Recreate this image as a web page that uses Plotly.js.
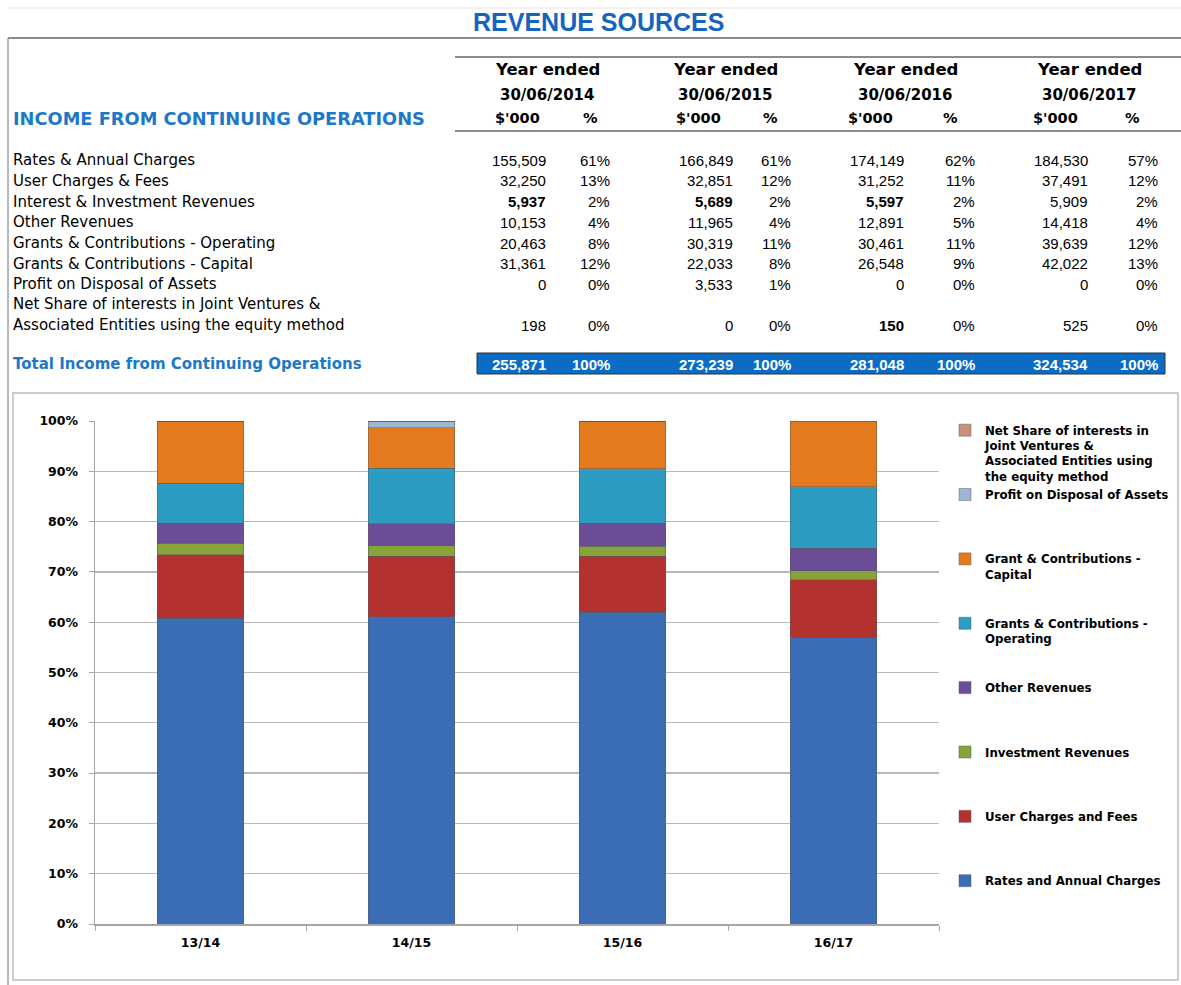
<!DOCTYPE html>
<html><head><meta charset="utf-8">
<script src="https://cdn.plot.ly/plotly-3.0.1.min.js"></script>
<style>html,body{margin:0;padding:0;background:#fff;} #chart{width:1181px;height:985px;}</style>
</head><body><div id="chart"></div>
<script>
const W = 1181, H = 985;

// ---- data ----
const categories = ['13/14', '14/15', '15/16', '16/17'];
const yearEnded = ['30/06/2014', '30/06/2015', '30/06/2016', '30/06/2017'];
const rowLabels = [
  'Rates & Annual Charges',
  'User Charges & Fees',
  'Interest & Investment Revenues',
  'Other Revenues',
  'Grants & Contributions - Operating',
  'Grants & Contributions - Capital',
  'Profit on Disposal of Assets',
  'Net Share of interests in Joint Ventures &|Associated Entities using the equity method'
];
const seriesNames = [
  'Rates and Annual Charges',
  'User Charges and Fees',
  'Investment Revenues',
  'Other Revenues',
  'Grants & Contributions -<br>Operating',
  'Grant & Contributions -<br>Capital',
  'Profit on Disposal of Assets',
  'Net Share of interests in<br>Joint Ventures &<br>Associated Entities using<br>the equity method'
];
const values2014 = [155509, 32250, 5937, 10153, 20463, 31361, 0, 198];
const values2015 = [166849, 32851, 5689, 11965, 30319, 22033, 3533, 0];
const values2016 = [174149, 31252, 5597, 12891, 30461, 26548, 0, 150];
const values2017 = [184530, 37491, 5909, 14418, 39639, 42022, 0, 525];
const pct2014 = [61, 13, 2, 4, 8, 12, 0, 0];
const pct2015 = [61, 12, 2, 4, 11, 8, 1, 0];
const pct2016 = [62, 11, 2, 5, 11, 9, 0, 0];
const pct2017 = [57, 12, 2, 4, 12, 13, 0, 0];
const totals = [255871, 273239, 281048, 324534];
const totalPct = [100, 100, 100, 100];

// ---- styling ----
const colors = ['#3A6DB5', '#B3322F', '#86A43A', '#6B4E97', '#2C9CC3', '#E37B1E', '#9DB6D4', '#C8917F'];
const boldCells = {'2_0': 1, '2_1': 1, '2_2': 1, '7_2': 1};
const valueRight = [548, 735, 906, 1090];
const pctRight = [612, 793, 977, 1160];
const headCenter = [547, 725, 905, 1089];
const dollarCenter = [517, 698, 870, 1055];
const pctCenter = [590, 770, 950, 1132];
const rowY = [160, 181, 202, 222, 243, 264, 284, 325];
const SANS = 'Liberation Sans, Arial, sans-serif';
const WIDE = 'DejaVu Sans, Verdana, sans-serif';

const yearValues = [values2014, values2015, values2016, values2017];
const yearPct = [pct2014, pct2015, pct2016, pct2017];
const fmt = n => n.toLocaleString('en-US');

const annotations = [];
function ann(text, x, y, o) {
  o = o || {};
  annotations.push({
    text: text, xref: 'paper', yref: 'paper', x: x / W, y: 1 - y / H,
    xanchor: o.xa || 'left', yanchor: 'middle', showarrow: false,
    font: {family: o.family || SANS, size: o.size || 15, color: o.color || '#000', weight: o.bold ? 'bold' : 'normal'}
  });
}

// title + headers
ann('REVENUE SOURCES', 598, 22, {xa: 'center', size: 25, bold: true, color: '#1565C0'});
ann('INCOME FROM CONTINUING OPERATIONS', 11, 118, {size: 17.8, bold: true, color: '#1E78C8', family: WIDE});
for (let j = 0; j < 4; j++) {
  ann('Year ended', headCenter[j], 70, {xa: 'center', size: 16.5, bold: true, family: WIDE});
  ann(yearEnded[j], headCenter[j], 95, {xa: 'center', size: 15, bold: true, family: WIDE});
  ann("$'000", dollarCenter[j], 118, {xa: 'center', size: 14.5, bold: true, family: WIDE});
  ann('%', pctCenter[j], 118, {xa: 'center', size: 14.5, bold: true, family: WIDE});
}
// rows
for (let i = 0; i < rowLabels.length; i++) {
  const parts = rowLabels[i].split('|');
  if (parts.length === 2) {
    ann(parts[0], 11, rowY[i] - 21, {family: WIDE, size: 15});
    ann(parts[1], 11, rowY[i], {family: WIDE, size: 15});
  } else {
    ann(parts[0], 11, rowY[i], {family: WIDE, size: 15});
  }
  for (let j = 0; j < 4; j++) {
    ann(fmt(yearValues[j][i]), valueRight[j], rowY[i], {xa: 'right', bold: !!boldCells[i + '_' + j]});
    ann(yearPct[j][i] + '%', pctRight[j], rowY[i], {xa: 'right'});
  }
}
ann('Total Income from Continuing Operations', 11, 364, {size: 15, bold: true, color: '#1E78C8', family: WIDE});
for (let j = 0; j < 4; j++) {
  ann(fmt(totals[j]), valueRight[j], 364, {xa: 'right', bold: true, color: '#fff'});
  ann(totalPct[j] + '%', pctRight[j], 364, {xa: 'right', bold: true, color: '#fff'});
}

// shapes (pixel helper)
const shapes = [];
function line(x0, y0, x1, y1, c, w) {
  shapes.push({type: 'line', xref: 'paper', yref: 'paper', x0: x0 / W, x1: x1 / W, y0: 1 - y0 / H, y1: 1 - y1 / H, line: {color: c, width: w}});
}
function rect(x0, y0, x1, y1, fill, c, w) {
  shapes.push({type: 'rect', xref: 'paper', yref: 'paper', x0: x0 / W, x1: x1 / W, y0: 1 - y0 / H, y1: 1 - y1 / H, fillcolor: fill, line: {color: c, width: w}, layer: 'below'});
}
line(8, 8, 1181, 8, '#E4E4E4', 1);
line(8, 38, 1181, 38, '#8C8C8C', 2);
line(8, 38, 8, 985, '#A0A0A0', 1.5);
line(455, 57, 1181, 57, '#8C8C8C', 2);
line(455, 131, 1181, 131, '#8C8C8C', 2);
rect(477, 353, 1165, 374, '#0A6CC4', '#333', 1);
rect(13, 393, 1178, 980, 'rgba(0,0,0,0)', '#BDBDBD', 1.5);

// bars (100% stacked via barnorm)
const traces = seriesNames.map((name, i) => {
  const lines = name.split('<br>').length;
  let padded = name;
  for (let k = lines; k < 4; k++) padded += '<br>\u00a0';
  return {
    type: 'bar', name: padded, x: categories,
    y: yearValues.map(v => v[i]),
    marker: {color: colors[i], line: {color: 'rgba(90,90,90,0.6)', width: 0.8}},
    hoverinfo: 'x+y'
  };
});

const tickFont = {family: WIDE, size: 12.5, color: '#000', weight: 'bold'};
const layout = {
  width: W, height: H,
  margin: {l: 0, r: 0, t: 0, b: 0},
  paper_bgcolor: '#fff', plot_bgcolor: '#fff',
  barmode: 'stack', barnorm: 'percent', bargap: 0.59,
  xaxis: {
    domain: [95 / W, 939 / W], type: 'category',
    showline: true, linecolor: '#A6A6A6', linewidth: 1.5,
    ticks: 'outside', tickson: 'boundaries', ticklen: 5, tickcolor: '#A6A6A6',
    tickfont: tickFont, ticklabelstandoff: 6, showgrid: false, fixedrange: true
  },
  yaxis: {
    domain: [1 - 924 / H, 1 - 421 / H], range: [0, 100], dtick: 10, ticksuffix: '%',
    showgrid: true, gridcolor: '#B8B8B8', gridwidth: 1.2,
    showline: true, linecolor: '#A6A6A6', linewidth: 1.5,
    ticks: 'outside', ticklen: 5, tickcolor: '#A6A6A6',
    tickfont: tickFont, ticklabelstandoff: 8, zeroline: false, fixedrange: true
  },
  showlegend: true,
  legend: {
    x: 945 / W, y: 1 - 416 / H, xanchor: 'left', yanchor: 'top',
    traceorder: 'reversed', valign: 'top', itemwidth: 30,
    font: {family: WIDE, size: 11.8, color: '#000', weight: 'bold'},
    bgcolor: 'rgba(0,0,0,0)'
  },
  annotations: annotations,
  shapes: shapes
};

Plotly.newPlot('chart', traces, layout, {displayModeBar: false, staticPlot: true});
</script>
</body></html>
